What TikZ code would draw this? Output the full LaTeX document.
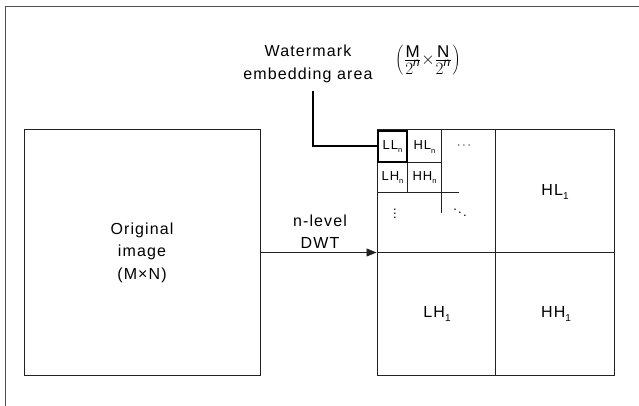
\documentclass[tikz,border=0pt]{standalone}
\usepackage{fontspec}
\setmainfont{Liberation Sans}[LetterSpace=7]
\usetikzlibrary{arrows.meta}
\definecolor{ln}{HTML}{222222}
\begin{document}
\begin{tikzpicture}[x=1pt,y=-1pt,
  lbl/.style={font=\fontsize{16}{22.5}\selectfont, align=center, inner sep=0pt},
  box/.style={draw=ln, line width=1pt, minimum width=236pt, minimum height=245pt, inner sep=0pt},
  cell/.style={font=\fontsize{13}{13}\selectfont, inner sep=0pt},
  grid/.style={draw=ln, line width=0.9pt},
  frame/.style={draw=ln!80, line width=1.3pt},
  leader/.style={draw=black, line width=2pt},
]
\useasboundingbox (0,0) rectangle (639,406);
\draw[frame] (5.5,406) -- (5.5,6.5) -- (639,6.5);
% original image
\node[box] (orig) at (142,252.5) {};
\node[lbl] (origtxt) at (orig.center) {Original\\image\\(M×N)};
% transformed image
\node[box, minimum width=237pt] (dwt) at (495.5,252.5) {};
\draw[grid] (dwt.north) -- (dwt.south);
\draw[grid] (dwt.west) -- (dwt.east);
\draw[grid, -{Triangle[length=10pt,width=8pt]}] (orig.east) -- (dwt.west);
\node[lbl] (dwtlbl) at (320,231.5) {n-level\\DWT};
% quadrant labels
\node[lbl] (hl1) at (555,192) {HL\raisebox{-0.45ex}{\fontsize{10}{10}\selectfont 1}};
\node[lbl] (lh1) at (437,314) {LH\raisebox{-0.45ex}{\fontsize{10}{10}\selectfont 1}};
\node[lbl] (hh1) at (556,314) {HH\raisebox{-0.45ex}{\fontsize{10}{10}\selectfont 1}};
% inner subbands
\draw[grid] (407,130) -- (407,192.5);
\draw[grid] (441.5,130) -- (441.5,213);
\draw[grid] (377,162) -- (441.5,162);
\draw[grid] (377,192.5) -- (459,192.5);
\node[draw=black, line width=1.6pt, minimum width=29.5pt, minimum height=31pt, inner sep=0pt] (llbox) at (392.5,146.5) {};
\node[cell] (lln) at (llbox.center) {LL\raisebox{-0.45ex}{\fontsize{7.5}{7.5}\selectfont n}};
\node[cell] (hln) at (424.5,147) {HL\raisebox{-0.45ex}{\fontsize{7.5}{7.5}\selectfont n}};
\node[cell] (lhn) at (392.5,177.5) {LH\raisebox{-0.45ex}{\fontsize{7.5}{7.5}\selectfont n}};
\node[cell] (hhn) at (424.5,177.5) {HH\raisebox{-0.45ex}{\fontsize{7.5}{7.5}\selectfont n}};
\node[cell] (hdots) at (464,146) {$\cdots$};
\node[cell] (vdots) at (395,211) {$\vdots$};
\node[cell] (ddots) at (460,210) {$\ddots$};
% watermark annotation
\coordinate (bend) at (312.5,146.5);
\coordinate (leadend) at (312.5,91);
\draw[leader] (llbox.west) -- (bend) -- (leadend);
\node[lbl] (wm) at (308,64) {Watermark\\embedding area};
\node[font=\fontsize{17}{17}\selectfont, inner sep=0pt] (size) at (428,60)
  {$\nulldelimiterspace=0pt\left(\mkern2mu\frac{\displaystyle\mathrm{M}}{\displaystyle 2^{\mathit{n}}}\mkern1mu\mathord{\times}\mkern1mu\frac{\displaystyle\mathrm{N}}{\displaystyle 2^{\mathit{n}}}\mkern2mu\right)$};
\end{tikzpicture}
\end{document}
